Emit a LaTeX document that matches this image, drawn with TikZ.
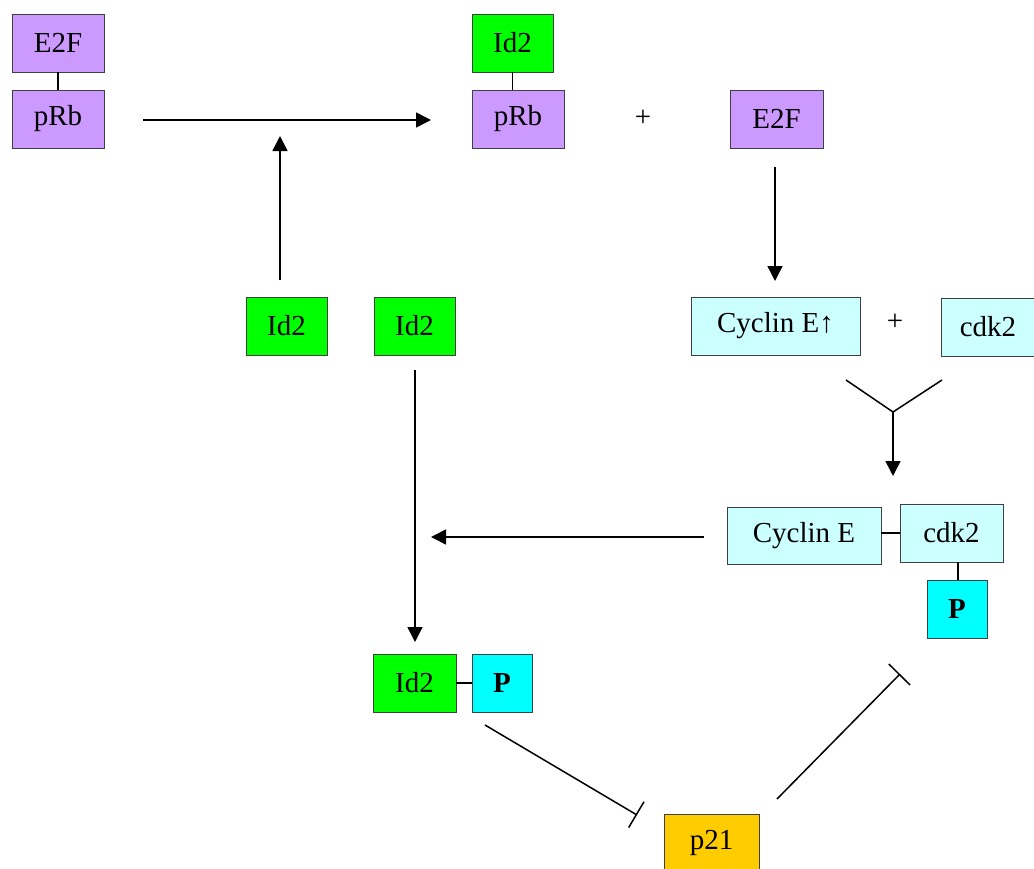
\documentclass[tikz,border=0pt]{standalone}
\usepackage{fontspec}
\setmainfont{Liberation Serif}
\usetikzlibrary{arrows.meta}
\definecolor{cpurple}{HTML}{CC99FF}
\definecolor{cgreen}{HTML}{00FF00}
\definecolor{clcyan}{HTML}{CCFFFF}
\definecolor{ccyan}{HTML}{00FFFF}
\definecolor{corange}{HTML}{FFCC00}
\definecolor{cborder}{HTML}{404040}
\begin{document}
\begin{tikzpicture}[x=1pt,y=-1pt,
  box/.style={draw=cborder, line width=0.9pt, minimum height=58pt, inner sep=0pt, anchor=center, font=\fontsize{29}{34}\selectfont},
  pbox/.style={box, fill=cpurple},
  gbox/.style={box, fill=cgreen},
  lcbox/.style={box, fill=clcyan},
  cbox/.style={box, fill=ccyan, font=\fontsize{29}{34}\selectfont\bfseries},
  obox/.style={box, fill=corange},
  plustxt/.style={inner sep=0pt, font=\fontsize{29}{34}\selectfont},
  link/.style={line width=1.5pt},
  arr/.style={line width=1.5pt, -{Triangle[length=15pt,width=15pt]}},
  inhib/.style={line width=1.5pt, -{Bar[width=30pt]}},
  ]
\clip (0,0) rectangle (1034,868);
\fill[white] (0,0) rectangle (1034,868);
% nodes
\node[pbox, minimum width=92pt] (e2fA) at (58,43) {E2F};
\node[pbox, minimum width=92pt] (prbA) at (58,119) {pRb};
\node[gbox, minimum width=81pt] (id2A) at (512.5,43) {Id2};
\node[pbox, minimum width=92pt] (prbB) at (518,119) {pRb};
\node[plustxt] (plus1) at (643,118) {+};
\node[pbox, minimum width=93pt] (e2fB) at (776.5,119) {E2F};
\node[gbox, minimum width=81pt] (id2L) at (286.5,326) {Id2};
\node[gbox, minimum width=81pt] (id2M) at (414.5,326) {Id2};
\node[lcbox, minimum width=169pt] (cycE) at (775.5,326) {Cyclin E↑};
\node[plustxt] (plus2) at (895,322) {+};
\node[lcbox, minimum width=94pt] (cdkA) at (988,327) {cdk2};
\node[lcbox, minimum width=154pt, minimum height=57pt] (cycE2) at (804,535.5) {Cyclin E};
\node[lcbox, minimum width=103pt] (cdkB) at (951.5,533) {cdk2};
\node[cbox, minimum width=60pt] (pR) at (957,609) {P};
\node[gbox, minimum width=83pt] (id2P) at (414.5,683) {Id2};
\node[cbox, minimum width=60pt] (pB) at (502,683) {P};
\node[obox, minimum width=95pt] (p21) at (711.5,843) {p21};
% links between bound partners
\draw[link] (e2fA.south) -- (prbA.north);
\draw[link] (id2A.south) -- (id2A.south |- prbB.north);
\draw[link] (cycE2.east |- cdkB.west) -- (cdkB.west);
\draw[link] (pR.north -| 958,0) -- (958,0 |- cdkB.south);
\draw[link] (id2P.east) -- (pB.west);
% free-end coordinates
\coordinate (a1s) at (143,120);
\coordinate (a1e) at (431,120);
\coordinate (a2s) at (280,280);
\coordinate (a2e) at (280,136);
\coordinate (a3s) at (775,167);
\coordinate (a3e) at (775,281);
\coordinate (yL) at (846,380);
\coordinate (yR) at (942,380);
\coordinate (yJ) at (893,412);
\coordinate (yE) at (893,476);
\coordinate (a4s) at (704,537);
\coordinate (a4e) at (431,537);
\coordinate (a5s) at (415,370);
\coordinate (a5e) at (415,642);
\coordinate (i1s) at (485,725);
\coordinate (i1e) at (637,815);
\coordinate (i2s) at (777,799);
\coordinate (i2e) at (900,674);
% connectors
\draw[arr] (a1s) -- (a1e);
\draw[arr] (a2s) -- (a2e);
\draw[arr] (a3s) -- (a3e);
\draw[link] (yL) -- (yJ) -- (yR);
\draw[arr] (yJ) -- (yE);
\draw[arr] (a4s) -- (a4e);
\draw[arr] (a5s) -- (a5e);
\draw[inhib] (i1s) -- (i1e);
\draw[inhib] (i2s) -- (i2e);
\end{tikzpicture}
\end{document}
